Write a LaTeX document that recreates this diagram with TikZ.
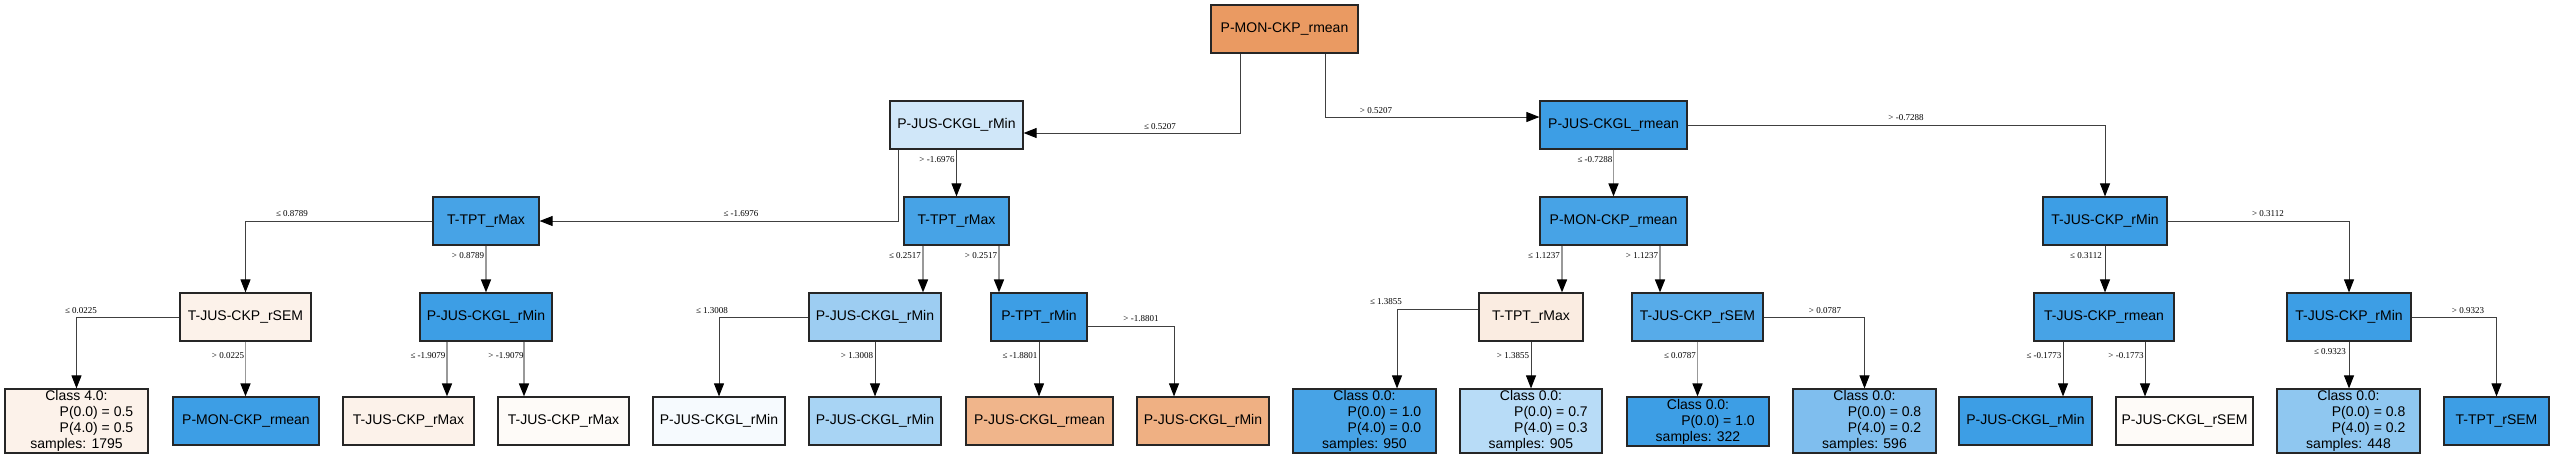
\documentclass[tikz,border=0pt]{standalone}
\usepackage{fontspec}
\setmainfont{Liberation Sans}
\newfontfamily\lblfont{Liberation Serif}
\usetikzlibrary{arrows.meta}
\definecolor{orroot}{HTML}{EA9A62}
\definecolor{orlt}{HTML}{F0B58B}
\definecolor{orlt2}{HTML}{EFB083}
\definecolor{cream}{HTML}{FCF2EA}
\definecolor{cream2}{HTML}{FAECE1}
\definecolor{offwh}{HTML}{FEFBF8}
\definecolor{bluewh}{HTML}{F6FAFE}
\definecolor{bluepale}{HTML}{D0E7F9}
\definecolor{bluelt}{HTML}{A8D4F4}
\definecolor{bluelt2}{HTML}{9DCDF2}
\definecolor{bluemid}{HTML}{7FBEEE}
\definecolor{bluemid2}{HTML}{8FC7F0}
\definecolor{blueb}{HTML}{B8DCF7}
\definecolor{bluedk}{HTML}{3D9EE5}
\definecolor{bluedk2}{HTML}{47A3E6}
\definecolor{bluedk3}{HTML}{57ABE9}
\tikzset{
  box/.style={draw=black!85,line width=1.2pt,minimum height=48pt,inner sep=0pt,
    font=\fontsize{14}{16}\selectfont},
  cls/.style={box,minimum height=64pt,minimum width=143pt,align=center},
  edge/.style={draw=black!75,line width=.9pt,-{Triangle[length=13pt,width=10pt,color=black]}},
  edgeg/.style={edge,draw=black!40,line width=1.6pt},
  lbl/.style={font=\lblfont\fontsize{9}{10}\selectfont,inner sep=0pt}
}
\newcommand{\pin}{\hspace*{40pt}}
\begin{document}
\begin{tikzpicture}[x=1pt,y=-1pt,line join=miter]
  \useasboundingbox (0,0) rectangle (2554,459);
  % splits
  \node[box,fill=orroot,minimum width=147pt] (root) at (1284.5,29) {P-MON-CKP\_rmean};
  \node[box,fill=bluepale,minimum width=133pt] (L1a) at (956.5,125) {P-JUS-CKGL\_rMin};
  \node[box,fill=bluedk,minimum width=147pt] (L1b) at (1613.5,125) {P-JUS-CKGL\_rmean};
  \node[box,fill=bluedk2,minimum width=106pt] (L2a) at (486,221) {T-TPT\_rMax};
  \node[box,fill=bluedk2,minimum width=105pt] (L2b) at (956.5,221) {T-TPT\_rMax};
  \node[box,fill=bluedk2,minimum width=147pt] (L2c) at (1613.5,221) {P-MON-CKP\_rmean};
  \node[box,fill=bluedk,minimum width=124pt] (L2d) at (2105,221) {T-JUS-CKP\_rMin};
  \node[box,fill=cream,minimum width=131pt] (L3a) at (245.5,317) {T-JUS-CKP\_rSEM};
  \node[box,fill=bluedk,minimum width=132pt] (L3b) at (486,317) {P-JUS-CKGL\_rMin};
  \node[box,fill=bluelt2,minimum width=132pt] (L3c) at (875,317) {P-JUS-CKGL\_rMin};
  \node[box,fill=bluedk,minimum width=96pt] (L3d) at (1039,317) {P-TPT\_rMin};
  \node[box,fill=cream2,minimum width=104pt] (L3e) at (1531,317) {T-TPT\_rMax};
  \node[box,fill=bluedk3,minimum width=131pt] (L3f) at (1697.5,317) {T-JUS-CKP\_rSEM};
  \node[box,fill=bluedk2,minimum width=140pt] (L3g) at (2104,317) {T-JUS-CKP\_rmean};
  \node[box,fill=bluedk,minimum width=124pt] (L3h) at (2349,317) {T-JUS-CKP\_rMin};
  % leaves
  \node[cls,fill=cream] (c1795) at (76.5,421) {Class 4.0:\\\pin P(0.0) = 0.5\\\pin P(4.0) = 0.5\\samples: 1795};
  \node[box,fill=bluedk,minimum width=146pt] (lfA) at (246,421) {P-MON-CKP\_rmean};
  \node[box,fill=cream,minimum width=131pt] (lfB) at (408.5,421) {T-JUS-CKP\_rMax};
  \node[box,fill=offwh,minimum width=131pt] (lfC) at (563.5,421) {T-JUS-CKP\_rMax};
  \node[box,fill=bluewh,minimum width=132pt] (lfD) at (719,421) {P-JUS-CKGL\_rMin};
  \node[box,fill=bluelt,minimum width=132pt] (lfE) at (875,421) {P-JUS-CKGL\_rMin};
  \node[box,fill=orlt,minimum width=147pt] (lfF) at (1039.5,421) {P-JUS-CKGL\_rmean};
  \node[box,fill=orlt2,minimum width=132pt] (lfG) at (1203,421) {P-JUS-CKGL\_rMin};
  \node[cls,fill=bluedk2] (c950) at (1364.5,421) {Class 0.0:\\\pin P(0.0) = 1.0\\\pin P(4.0) = 0.0\\samples: 950};
  \node[cls,fill=blueb,minimum width=142pt] (c905) at (1531,421) {Class 0.0:\\\pin P(0.0) = 0.7\\\pin P(4.0) = 0.3\\samples: 905};
  \node[cls,fill=bluedk,minimum width=142pt,minimum height=49pt] (c322) at (1698,421.5) {Class 0.0:\\\pin P(0.0) = 1.0\\samples: 322};
  \node[cls,fill=bluemid] (c596) at (1864.5,421) {Class 0.0:\\\pin P(0.0) = 0.8\\\pin P(4.0) = 0.2\\samples: 596};
  \node[box,fill=bluedk,minimum width=133pt] (lfH) at (2025.5,421) {P-JUS-CKGL\_rMin};
  \node[box,fill=offwh,minimum width=137pt] (lfI) at (2184.5,421) {P-JUS-CKGL\_rSEM};
  \node[cls,fill=bluemid2] (c448) at (2348.5,421) {Class 0.0:\\\pin P(0.0) = 0.8\\\pin P(4.0) = 0.2\\samples: 448};
  \node[box,fill=bluedk,minimum width=105pt] (lfJ) at (2496.5,421) {T-TPT\_rSEM};
  % connectors
  \draw[edge] ([xshift=-44.5pt]root.south) |- ([yshift=-8pt]L1a.east);
  \draw[edge] ([xshift=40.5pt]root.south) |- ([yshift=8pt]L1b.west);
  \draw[edge] ([xshift=-58.5pt]L1a.south) |- (L2a.east);
  \draw[edge] (L1a.south) -- (L2b.north);
  \draw[edgeg] (L1b.south) -- (L2c.north);
  \draw[edge] (L1b.east) -| (L2d.north);
  \draw[edge] (L2a.west) -| (L3a.north);
  \draw[edgeg] (L2a.south) -- (L3b.north);
  \draw[edgeg] ([xshift=-33.5pt]L2b.south) -- ([xshift=48pt]L3c.north);
  \draw[edgeg] ([xshift=42.5pt]L2b.south) -- ([xshift=-40pt]L3d.north);
  \draw[edgeg] ([xshift=-51.5pt]L2c.south) -- ([xshift=31pt]L3e.north);
  \draw[edgeg] ([xshift=46.5pt]L2c.south) -- ([xshift=-37.5pt]L3f.north);
  \draw[edge] (L2d.south) -- (L2d.south |- L3g.north);
  \draw[edge] (L2d.east) -| (L3h.north);
  \draw[edge] (L3a.west) -| (c1795.north);
  \draw[edgeg] (L3a.south) -- (L3a.south |- lfA.north);
  \draw[edgeg] ([xshift=-39pt]L3b.south) -- ([xshift=38.5pt]lfB.north);
  \draw[edgeg] ([xshift=38pt]L3b.south) -- ([xshift=-39.5pt]lfC.north);
  \draw[edge] (L3c.west) -| (lfD.north);
  \draw[edge] (L3c.south) -- (lfE.north);
  \draw[edge] (L3d.south) -- (L3d.south |- lfF.north);
  \draw[edge] ([yshift=-9pt]L3d.east) -| ([xshift=-29pt]lfG.north);
  \draw[edge] ([yshift=8pt]L3e.west) -| ([xshift=32.5pt]c950.north);
  \draw[edge] (L3e.south) -- (c905.north);
  \draw[edgeg] (L3f.south) -- (L3f.south |- c322.north);
  \draw[edge] (L3f.east) -| (c596.north);
  \draw[edge] ([xshift=-41pt]L3g.south) -- ([xshift=37.5pt]lfH.north);
  \draw[edge] ([xshift=41pt]L3g.south) -- ([xshift=-39.5pt]lfI.north);
  \draw[edge] (L3h.south) -- (L3h.south |- c448.north);
  \draw[edge] (L3h.east) -| (lfJ.north);
  % thresholds
  \node[lbl] (t1) at (1160,127) {≤ 0.5207};
  \node[lbl] (t2) at (1376,111) {> 0.5207};
  \node[lbl] (t3) at (741,214) {≤ -1.6976};
  \node[lbl] (t4) at (937,160) {> -1.6976};
  \node[lbl] (t5) at (1595,160) {≤ -0.7288};
  \node[lbl] (t6) at (1906,118) {> -0.7288};
  \node[lbl] (t7) at (292,214) {≤ 0.8789};
  \node[lbl] (t8) at (468,256) {> 0.8789};
  \node[lbl] (t9) at (905,256) {≤ 0.2517};
  \node[lbl] (t10) at (981,256) {> 0.2517};
  \node[lbl] (t11) at (1544,256) {≤ 1.1237};
  \node[lbl] (t12) at (1642,256) {> 1.1237};
  \node[lbl] (t13) at (2086,256) {≤ 0.3112};
  \node[lbl] (t14) at (2268,214) {> 0.3112};
  \node[lbl] (t15) at (81,311) {≤ 0.0225};
  \node[lbl] (t16) at (228,356) {> 0.0225};
  \node[lbl] (t17) at (428,356) {≤ -1.9079};
  \node[lbl] (t18) at (506,356) {> -1.9079};
  \node[lbl] (t19) at (712,311) {≤ 1.3008};
  \node[lbl] (t20) at (857,356) {> 1.3008};
  \node[lbl] (t21) at (1020,356) {≤ -1.8801};
  \node[lbl] (t22) at (1141,319) {> -1.8801};
  \node[lbl] (t23) at (1386,302) {≤ 1.3855};
  \node[lbl] (t24) at (1513,356) {> 1.3855};
  \node[lbl] (t25) at (1680,356) {≤ 0.0787};
  \node[lbl] (t26) at (1825,311) {> 0.0787};
  \node[lbl] (t27) at (2044,356) {≤ -0.1773};
  \node[lbl] (t28) at (2126,356) {> -0.1773};
  \node[lbl] (t29) at (2330,352) {≤ 0.9323};
  \node[lbl] (t30) at (2468,311) {> 0.9323};
\end{tikzpicture}
\end{document}
